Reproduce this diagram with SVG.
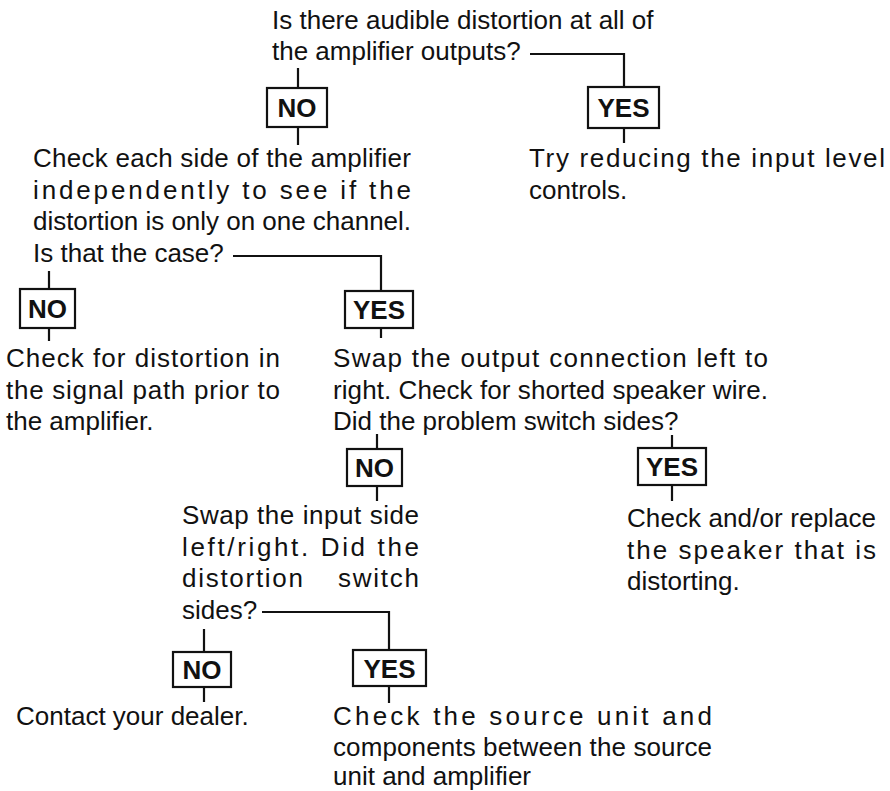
<svg xmlns="http://www.w3.org/2000/svg" width="890" height="791" viewBox="0 0 890 791">
<style>
text{font-family:"Liberation Sans",Arial,sans-serif;font-size:26px;fill:#111}
.lbl{font-weight:bold;text-anchor:middle}
.box{fill:#fff;stroke:#111;stroke-width:2.2}
.con{fill:none;stroke:#111;stroke-width:2.2}
</style>
<rect width="890" height="791" fill="#fff"/>
<g id="connectors">
<path class="con" d="M298 68V88M298 127V145"/>
<path class="con" d="M530 54H624V87M624 128V143"/>
<path class="con" d="M49 271V289M49 328V341"/>
<path class="con" d="M233 256H381V291M381 328V338"/>
<path class="con" d="M377 434V449M377 486V501"/>
<path class="con" d="M672 435V448M672 485V501"/>
<path class="con" d="M204 629V652M204 687V702"/>
<path class="con" d="M262 612H389V650M389 686V703"/>
</g>
<g id="q1">
<text x="272" y="28.5">Is there audible distortion at all of</text>
<text x="272" y="60">the amplifier outputs?</text>
</g>
<g id="no1"><rect class="box" x="267" y="88" width="60" height="39"/><text class="lbl" x="297" y="117">NO</text></g>
<g id="yes1"><rect class="box" x="588" y="87" width="71" height="41"/><text class="lbl" x="623.5" y="117">YES</text></g>
<g id="a1">
<text x="529" y="167" textLength="356" lengthAdjust="spacing">Try reducing the input level</text>
<text x="529" y="198.5">controls.</text>
</g>
<g id="q2">
<text x="33" y="167" textLength="378" lengthAdjust="spacing">Check each side of the amplifier</text>
<text x="33" y="198.5" textLength="378" lengthAdjust="spacing">independently to see if the</text>
<text x="33" y="230" textLength="378" lengthAdjust="spacing">distortion is only on one channel.</text>
<text x="33" y="262">Is that the case?</text>
</g>
<g id="no2"><rect class="box" x="20" y="289" width="55" height="39"/><text class="lbl" x="47.5" y="318">NO</text></g>
<g id="yes2"><rect class="box" x="345" y="291" width="68" height="37"/><text class="lbl" x="379" y="319">YES</text></g>
<g id="a2">
<text x="6" y="367" textLength="274" lengthAdjust="spacing">Check for distortion in</text>
<text x="6" y="398.5" textLength="274" lengthAdjust="spacing">the signal path prior to</text>
<text x="6" y="430">the amplifier.</text>
</g>
<g id="q3">
<text x="333" y="367" textLength="435" lengthAdjust="spacing">Swap the output connection left to</text>
<text x="333" y="398.5" textLength="435" lengthAdjust="spacing">right. Check for shorted speaker wire.</text>
<text x="333" y="430">Did the problem switch sides?</text>
</g>
<g id="no3"><rect class="box" x="347" y="449" width="55" height="37"/><text class="lbl" x="374.5" y="477">NO</text></g>
<g id="yes3"><rect class="box" x="638" y="448" width="68" height="37"/><text class="lbl" x="672" y="476">YES</text></g>
<g id="a3">
<text x="627" y="527" textLength="249" lengthAdjust="spacing">Check and/or replace</text>
<text x="627" y="558.5" textLength="249" lengthAdjust="spacing">the speaker that is</text>
<text x="627" y="590">distorting.</text>
</g>
<g id="q4">
<text x="182" y="524" textLength="237" lengthAdjust="spacing">Swap the input side</text>
<text x="182" y="555.5" textLength="237" lengthAdjust="spacing">left/right. Did the</text>
<text x="182" y="587" textLength="121" lengthAdjust="spacing">distortion</text>
<text x="338" y="587" textLength="81" lengthAdjust="spacing">switch</text>
<text x="182" y="619">sides?</text>
</g>
<g id="no4"><rect class="box" x="173" y="652" width="58" height="35"/><text class="lbl" x="202" y="679">NO</text></g>
<g id="yes4"><rect class="box" x="353" y="650" width="73" height="36"/><text class="lbl" x="389.5" y="677.5">YES</text></g>
<g id="a4a"><text x="16" y="725">Contact your dealer.</text></g>
<g id="a4b">
<text x="333" y="725" textLength="379" lengthAdjust="spacing">Check the source unit and</text>
<text x="333" y="756" textLength="379" lengthAdjust="spacing">components between the source</text>
<text x="333" y="785">unit and amplifier</text>
</g>
</svg>
